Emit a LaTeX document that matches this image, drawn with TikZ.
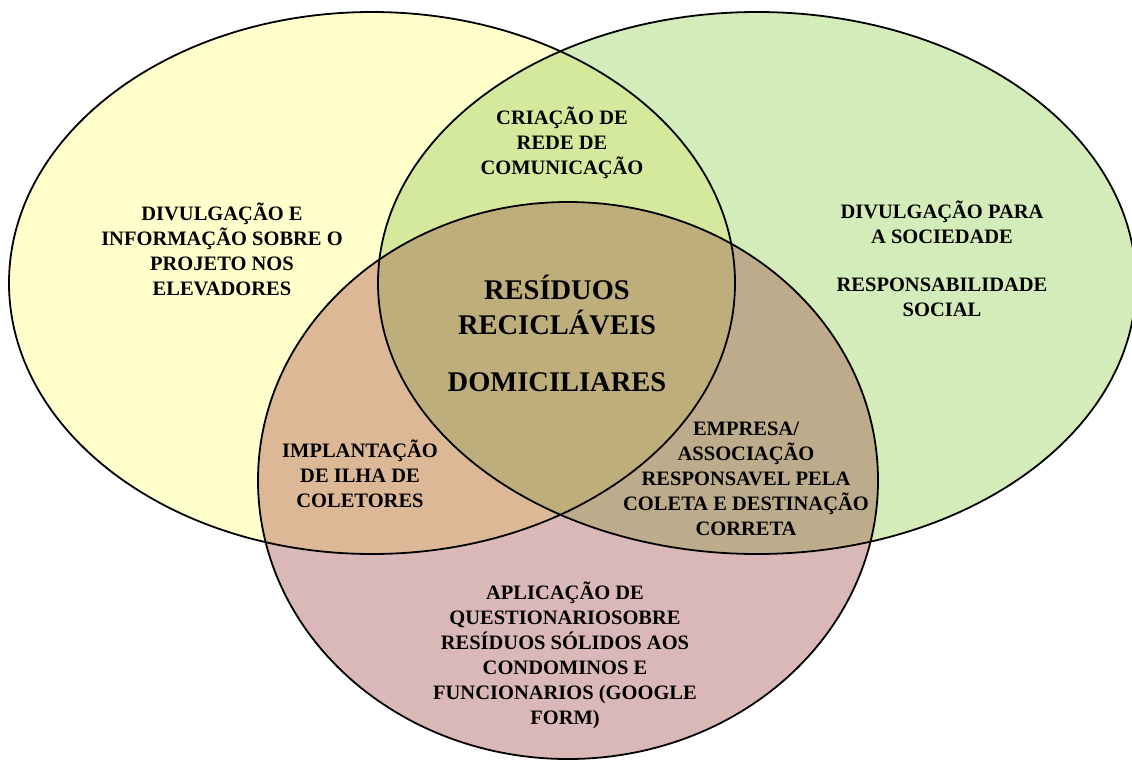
\documentclass[tikz,border=0pt]{standalone}
\usepackage{fontspec}
\setmainfont{Liberation Serif}
\definecolor{cY}{HTML}{FFFFCC}
\definecolor{cG}{HTML}{D4EBBA}
\definecolor{cP}{HTML}{DBB8B8}
\definecolor{cYG}{HTML}{D4E99C}
\definecolor{cYP}{HTML}{DCB897}
\definecolor{cGP}{HTML}{BDAC8B}
\definecolor{cYGP}{HTML}{BEAE7C}
\newcommand{\ellY}{(372,283) ellipse [x radius=363pt, y radius=271pt]}
\newcommand{\ellG}{(757,283) ellipse [x radius=379pt, y radius=271pt]}
\newcommand{\ellP}{(568,480.5) ellipse [x radius=310pt, y radius=278.5pt]}
\tikzset{
  lbl/.style={align=center, inner sep=0pt, font=\bfseries\fontsize{20.5}{25}\selectfont},
  biglbl/.style={align=center, inner sep=0pt, font=\bfseries\fontsize{28.5}{35}\selectfont},
  rim/.style={draw=black, line width=1.8pt}
}
\begin{document}
\begin{tikzpicture}[x=1pt,y=-1pt]
\useasboundingbox (0,0) rectangle (1132,769);
% base fills
\fill[cY] \ellY;
\fill[cG] \ellG;
\fill[cP] \ellP;
% pairwise overlaps
\begin{scope}\clip \ellY; \fill[cYG] \ellG; \end{scope}
\begin{scope}\clip \ellY; \fill[cYP] \ellP; \end{scope}
\begin{scope}\clip \ellG; \fill[cGP] \ellP; \end{scope}
\begin{scope}\clip \ellY; \clip \ellG; \fill[cYGP] \ellP; \end{scope}
% outlines
\draw[rim] \ellY;
\draw[rim] \ellG;
\draw[rim] \ellP;
% labels
\node[lbl] (left) at (222,249) {DIVULGAÇÃO E\\INFORMAÇÃO SOBRE O\\PROJETO NOS\\ELEVADORES};
\node[lbl] (top) at (562,143) {CRIAÇÃO DE\\REDE DE\\COMUNICAÇÃO};
\node[lbl] (right) at (942,259) {DIVULGAÇÃO PARA\\A SOCIEDADE\\[23pt]RESPONSABILIDADE\\SOCIAL};
\node[biglbl] (center) at (557,333) {RESÍDUOS\\RECICLÁVEIS\\[22pt]DOMICILIARES};
\node[lbl] (lowleft) at (360,474) {IMPLANTAÇÃO\\DE ILHA DE\\COLETORES};
\node[lbl] (lowright) at (746,479) {EMPRESA/\\ASSOCIAÇÃO\\RESPONSAVEL PELA\\COLETA E DESTINAÇÃO\\CORRETA};
\node[lbl] (bottom) at (565,655) {APLICAÇÃO DE\\QUESTIONARIOSOBRE\\RESÍDUOS SÓLIDOS AOS\\CONDOMINOS E\\FUNCIONARIOS (GOOGLE\\FORM)};
\end{tikzpicture}
\end{document}
